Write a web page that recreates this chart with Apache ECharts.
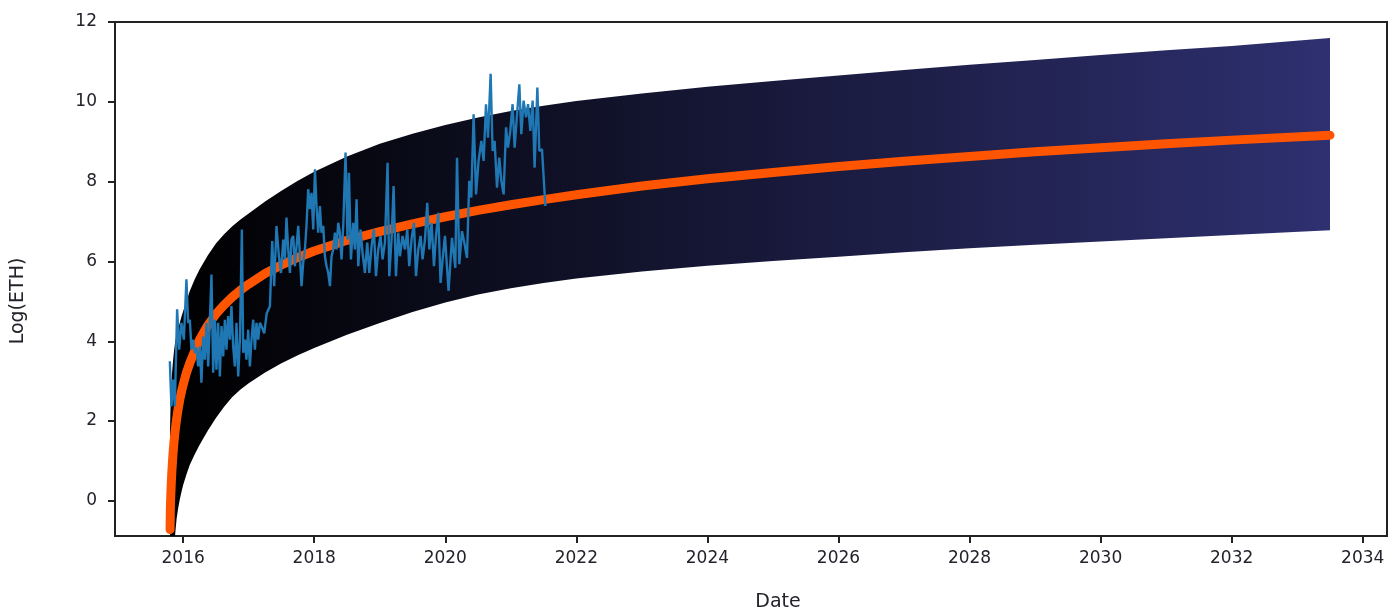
<!DOCTYPE html>
<html>
<head>
<meta charset="utf-8">
<script src="https://cdn.jsdelivr.net/npm/echarts@6/dist/echarts.min.js"></script>
<style>
  html, body { margin: 0; padding: 0; background: #ffffff; }
  #chart { width: 1393px; height: 610px; }
</style>
</head>
<body>
<div id="chart"></div>
<script>
// ---- data ----
const xTicks = [2016, 2018, 2020, 2022, 2024, 2026, 2028, 2030, 2032, 2034];
const yTicks = [0, 2, 4, 6, 8, 10, 12];

// fitted trend and its band, read at these dates (decimal years)
const fitDates = [
  2015.80, 2015.805, 2015.81, 2015.82, 2015.83, 2015.845, 2015.86, 2015.88, 2015.90, 2015.925,
  2015.95, 2015.975, 2016.00, 2016.05, 2016.10, 2016.175, 2016.25, 2016.375, 2016.50, 2016.625,
  2016.75, 2016.875, 2017.00, 2017.25, 2017.50, 2017.75, 2018.00, 2018.50, 2019.00, 2019.50,
  2020.00, 2020.50, 2021.00, 2021.50, 2022.00, 2023.00, 2024.00, 2025.00, 2026.00, 2027.00,
  2028.00, 2029.00, 2030.00, 2031.00, 2032.00, 2033.50
];
const fitTrend = [
  -0.72, -0.18, 0.08, 0.49, 0.80, 1.18, 1.47, 1.79, 2.05, 2.32,
  2.55, 2.74, 2.91, 3.21, 3.45, 3.75, 4.04, 4.40, 4.68, 4.91,
  5.11, 5.28, 5.43, 5.70, 5.91, 6.10, 6.26, 6.53, 6.75, 6.94,
  7.12, 7.28, 7.42, 7.55, 7.67, 7.89, 8.07, 8.23, 8.38, 8.51,
  8.63, 8.75, 8.85, 8.95, 9.04, 9.16
];
const bandUpper = [
  1.80, 2.20, 2.50, 2.90, 3.20, 3.50, 3.75, 4.00, 4.15, 4.32,
  4.47, 4.62, 4.75, 5.00, 5.25, 5.55, 5.80, 6.15, 6.45, 6.68,
  6.88, 7.05, 7.20, 7.50, 7.77, 8.02, 8.25, 8.63, 8.95, 9.20,
  9.42, 9.61, 9.77, 9.90, 10.02, 10.21, 10.38, 10.52, 10.66, 10.80,
  10.93, 11.05, 11.17, 11.29, 11.40, 11.60
];
const bandLower = [
  -3.50, -3.10, -2.80, -2.35, -2.00, -1.55, -1.20, -0.80, -0.45, -0.17,
  0.05, 0.23, 0.40, 0.66, 0.90, 1.16, 1.40, 1.76, 2.08, 2.36,
  2.60, 2.79, 2.95, 3.22, 3.45, 3.65, 3.83, 4.16, 4.46, 4.73,
  4.97, 5.17, 5.33, 5.46, 5.57, 5.75, 5.89, 6.01, 6.12, 6.23,
  6.33, 6.42, 6.50, 6.58, 6.66, 6.78
];

// observed log price
const priceDates = [
  2015.797,2015.821,2015.847,2015.873,2015.908,2015.939,2015.974,2016.011,2016.050,2016.076,
  2016.102,2016.127,2016.153,2016.179,2016.203,2016.229,2016.255,2016.279,2016.305,2016.331,
  2016.356,2016.382,2016.408,2016.432,2016.458,2016.484,2016.508,2016.534,2016.560,2016.585,
  2016.611,2016.637,2016.661,2016.687,2016.713,2016.737,2016.763,2016.789,2016.814,2016.840,
  2016.866,2016.896,2016.916,2016.942,2016.966,2016.992,2017.018,2017.043,2017.069,2017.095,
  2017.119,2017.145,2017.171,2017.195,2017.237,2017.275,2017.324,2017.359,2017.389,2017.424,
  2017.461,2017.492,2017.527,2017.553,2017.577,2017.603,2017.629,2017.653,2017.679,2017.705,
  2017.730,2017.756,2017.782,2017.806,2017.832,2017.858,2017.882,2017.908,2017.934,2017.959,
  2017.985,2018.011,2018.035,2018.061,2018.087,2018.111,2018.137,2018.163,2018.188,2018.214,
  2018.240,2018.264,2018.290,2018.316,2018.340,2018.366,2018.392,2018.417,2018.443,2018.478,
  2018.508,2018.530,2018.560,2018.595,2018.621,2018.646,2018.672,2018.707,2018.737,2018.774,
  2018.809,2018.840,2018.875,2018.911,2018.942,2018.977,2019.012,2019.043,2019.079,2019.119,
  2019.145,2019.180,2019.211,2019.247,2019.282,2019.308,2019.348,2019.385,2019.420,2019.450,
  2019.485,2019.522,2019.553,2019.588,2019.623,2019.653,2019.690,2019.725,2019.756,2019.791,
  2019.827,2019.858,2019.893,2019.928,2019.959,2019.995,2020.050,2020.102,2020.153,2020.179,
  2020.214,2020.255,2020.295,2020.331,2020.366,2020.397,2020.432,2020.469,2020.508,2020.550,
  2020.585,2020.621,2020.652,2020.692,2020.722,2020.753,2020.789,2020.824,2020.855,2020.890,
  2020.927,2020.957,2020.992,2021.027,2021.058,2021.095,2021.130,2021.160,2021.195,2021.232,
  2021.263,2021.298,2021.333,2021.363,2021.405,2021.435,2021.476,2021.527
];
const priceValues = [
  3.5,2.37,3.04,2.37,4.8,3.79,4.46,4.04,5.55,4.46,
  4.54,3.79,4.04,3.71,3.84,3.37,3.87,2.96,4.12,3.54,
  4.46,3.37,4.54,5.67,3.21,4.54,3.29,4.46,3.12,4.38,
  3.62,4.54,3.79,4.63,4.04,4.88,3.87,3.37,4.46,3.12,
  4.04,6.8,3.71,4.04,3.54,4.29,3.37,4.04,4.54,3.79,
  4.46,4.04,4.46,4.38,4.2,4.7,4.88,6.51,5.38,6.89,
  6.13,5.71,6.55,6.05,7.1,6.3,5.71,6.55,6.64,5.88,
  6.38,6.89,6.13,5.38,5.97,6.3,6.89,7.81,7.31,7.72,
  6.8,8.31,7.39,6.72,7.39,6.72,6.89,6.13,5.88,5.71,
  5.38,6.13,6.3,6.72,6.3,6.97,6.72,6.05,6.89,8.73,
  6.55,8.22,6.05,6.97,6.3,7.56,5.88,6.8,6.22,5.71,
  6.47,5.71,6.38,6.8,5.63,6.3,6.64,6.05,6.47,8.47,
  5.63,6.55,7.89,5.63,6.72,6.13,6.64,6.3,6.8,5.88,
  6.55,6.97,5.63,6.3,6.64,6.05,6.55,7.47,6.3,6.97,
  5.88,6.64,7.22,5.46,6.05,6.64,5.26,6.59,5.84,8.6,
  5.93,6.76,6.43,6.09,8.02,7.6,9.69,7.68,8.52,9.02,
  8.52,9.94,9.1,10.7,8.77,9.02,7.85,8.6,8.02,7.68,
  9.36,8.85,9.27,9.94,8.85,9.69,10.44,9.19,10.03,9.61,
  9.94,9.27,10.03,8.35,10.36,8.77,8.81,7.39
];

// ---- chart ----
const textColor = '#24222b';
const tickFont = '"DejaVu Sans", "Noto Sans", sans-serif';

const bandData = fitDates.map((d, i) => [d, bandUpper[i], bandLower[i]]);
const trendData = fitDates.map((d, i) => [d, fitTrend[i]]);
const priceData = priceDates.map((d, i) => [d, priceValues[i]]);

const chart = echarts.init(document.getElementById('chart'), null, { renderer: 'canvas' });
const axisLineStyle = { color: '#222222', width: 2 };

function renderBand(params, api) {
  if (params.dataIndex !== 0) return null;
  const pts = [];
  for (let i = 0; i < bandData.length; i++) pts.push(api.coord([bandData[i][0], bandData[i][1]]));
  for (let i = bandData.length - 1; i >= 0; i--) pts.push(api.coord([bandData[i][0], bandData[i][2]]));
  return {
    type: 'polygon',
    shape: { points: pts },
    style: {
      fill: new echarts.graphic.LinearGradient(0, 0, 1, 0, [
        { offset: 0, color: '#000000' },
        { offset: 1, color: '#2e3070' }
      ]),
      stroke: null
    }
  };
}

chart.setOption({
  animation: false,
  backgroundColor: '#ffffff',
  grid: {
    left: 115, right: 6, top: 22, bottom: 74,
    show: true, borderColor: '#222222', borderWidth: 2, backgroundColor: 'transparent'
  },
  xAxis: {
    type: 'value',
    min: 2014.96,
    max: 2034.37,
    splitLine: { show: false },
    axisLine: { show: true, onZero: false, lineStyle: axisLineStyle },
    axisTick: { show: true, inside: false, length: 7, lineStyle: axisLineStyle, customValues: xTicks },
    axisLabel: {
      customValues: xTicks, margin: 14, color: textColor, fontSize: 17, fontFamily: tickFont,
      formatter: v => String(Math.round(v))
    }
  },
  yAxis: {
    type: 'value',
    min: -0.88,
    max: 12,
    splitLine: { show: false },
    axisLine: { show: true, onZero: false, lineStyle: axisLineStyle },
    axisTick: { show: true, inside: false, length: 7, lineStyle: axisLineStyle, customValues: yTicks },
    axisLabel: {
      customValues: yTicks, margin: 18, color: textColor, fontSize: 17, fontFamily: tickFont,
      formatter: v => String(Math.round(v))
    }
  },
  graphic: [
    {
      type: 'text', x: 18, y: 301, rotation: Math.PI / 2,
      style: { text: 'Log(ETH)', fill: textColor, font: '19px ' + tickFont, align: 'center', verticalAlign: 'middle' }
    },
    {
      type: 'text', x: 778, y: 602,
      style: { text: 'Date', fill: textColor, font: '19px ' + tickFont, align: 'center', verticalAlign: 'middle' }
    }
  ],
  series: [
    {
      name: 'band', type: 'custom', data: bandData,
      encode: { x: 0, y: [1, 2] },
      renderItem: renderBand, clip: true, z: 1, silent: true
    },
    {
      name: 'trend', type: 'line', data: trendData,
      symbol: 'none',
      lineStyle: { color: '#ff5500', width: 9, cap: 'round', join: 'round' },
      z: 3
    },
    {
      name: 'price', type: 'line', data: priceData,
      symbol: 'none',
      lineStyle: { color: '#1f77b4', width: 2.4 },
      z: 4
    }
  ]
});
</script>
</body>
</html>
